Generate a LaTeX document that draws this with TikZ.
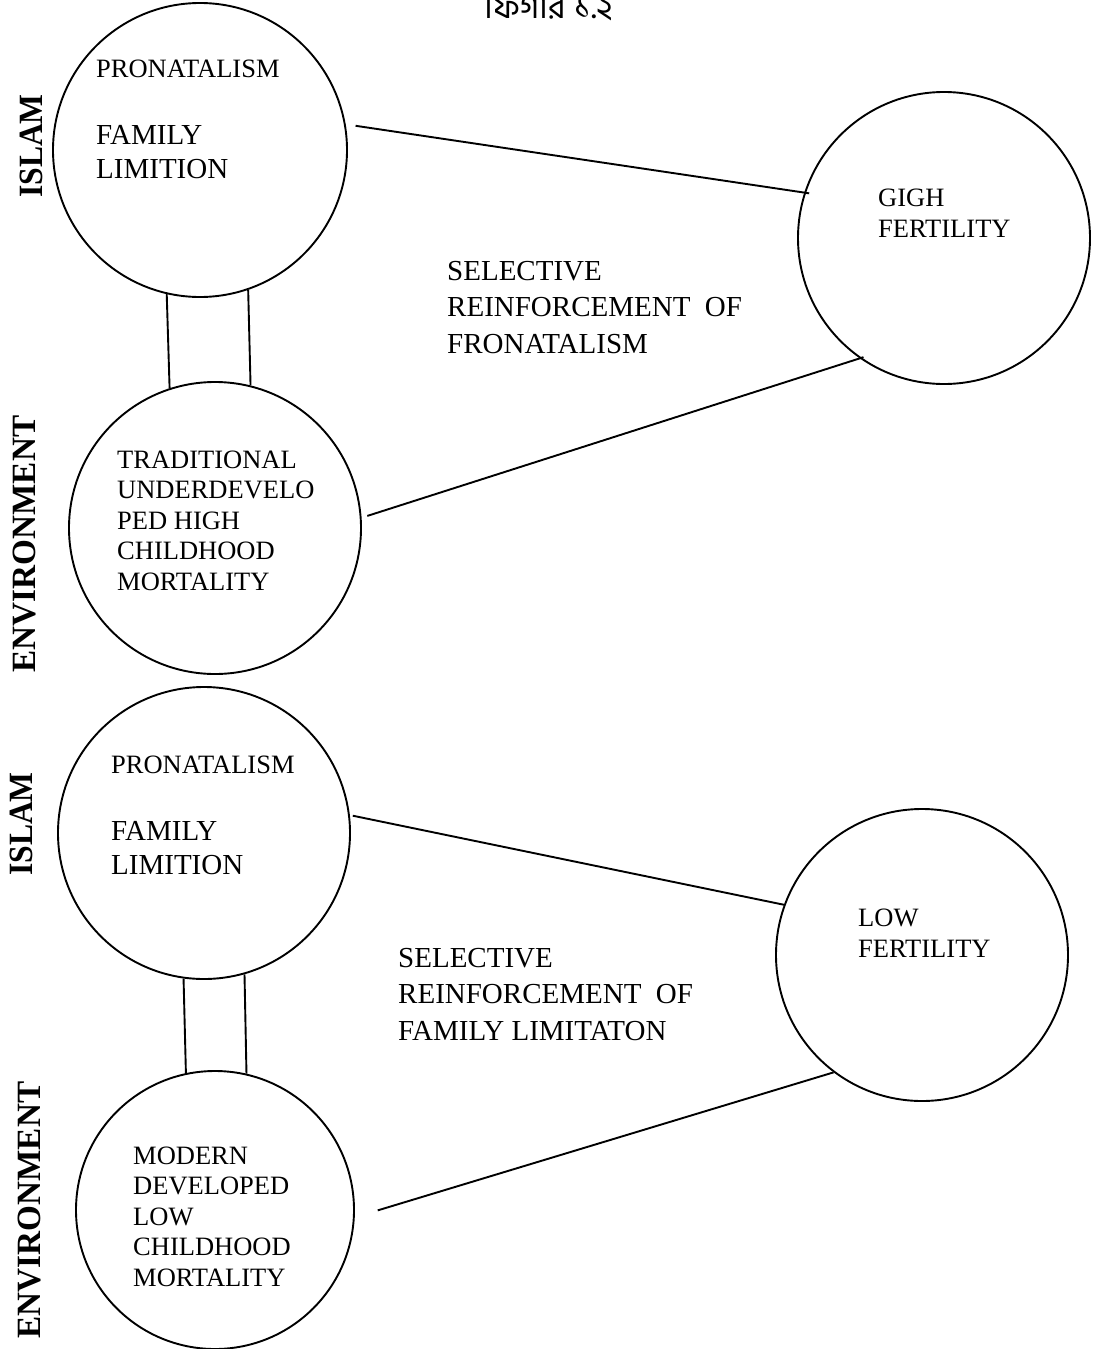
\documentclass[tikz,border=0pt]{standalone}
\usepackage{fontspec}
\setmainfont{Liberation Serif}
\newfontfamily\bnfont[Script=Bengali]{Hind Siliguri}
\usetikzlibrary{positioning}
\tikzset{
  bubble/.style={
    circle, draw=black, line width=1.9pt,
    minimum size=#1, inner sep=0pt
  },
  intext/.style={
    anchor=base west, align=left, inner sep=0pt,
    font=\fontsize{26.5}{30.5}\selectfont
  },
  bigtext/.style={
    anchor=base west, align=left, inner sep=0pt,
    font=\fontsize{29}{34}\selectfont
  },
  sidelab/.style={
    inner sep=0pt, rotate=90, xscale=0.93,
    font=\fontsize{34}{34}\selectfont\bfseries
  },
  link/.style={line width=1.9pt, color=black},
}

\begin{document}
\begin{tikzpicture}[x=1pt, y=-1pt]
      \useasboundingbox (0,0) rectangle (1096,1349);
      % title
      \node[anchor=base, inner sep=0pt, font=\bnfont\fontsize{34}{34}\selectfont](title) at (549,18) {ফিগার ১.২};
      % upper diagram
      \node[bubble=294pt](isl1) at (200,150) {};
      \node[bubble=292pt](env1) at (215,528) {};
      \node[bubble=292pt](hf1)  at (944,238) {};
      \node[sidelab](islam1) at (31,146)  {ISLAM};
      \node[sidelab, xscale=1.05](envir1) at (25,544) {ENVIRONMENT};
      \node[intext](pro1) at (96,77)   {PRONATALISM};
      \node[bigtext](fam1) at (96,178) {FAMILY\\LIMITION};
      \node[intext](trad1) at (117,590) {TRADITIONAL\\UNDERDEVELO\\PED HIGH\\CHILDHOOD\\MORTALITY};
      \node[intext](gigh1) at (878,237) {GIGH\\FERTILITY};
      \node[bigtext, font=\fontsize{29}{36.5}\selectfont](sel1) at (447,353) {SELECTIVE\\REINFORCEMENT~ OF\\FRONATALISM};
      \draw[link](isl1.257.4)--(env1.108.8);
      \draw[link](isl1.289.5)--(env1.76.5);
      \draw[link, shorten <=10pt, shorten >=-5pt](isl1.10)--(hf1.162);
      \draw[link, shorten <=6pt, shorten >=-4pt](env1.4.5)--(hf1.235.6);
      % lower diagram
      \node[bubble=292pt](isl2) at (204,833) {};
      \node[bubble=278pt](env2) at (215,1210) {};
      \node[bubble=292pt](lf2)  at (922,955) {};
      \node[sidelab](islam2) at (21,824)  {ISLAM};
      \node[sidelab, xscale=1.05](envir2) at (30,1210) {ENVIRONMENT};
      \node[intext](pro2) at (111,773)  {PRONATALISM};
      \node[bigtext](fam2) at (111,874) {FAMILY\\LIMITION};
      \node[intext](mod2) at (133,1286) {MODERN\\DEVELOPED\\LOW\\CHILDHOOD\\MORTALITY};
      \node[intext](low2) at (858,957)  {LOW\\FERTILITY};
      \node[bigtext, font=\fontsize{29}{36.5}\selectfont](sel2) at (398,1040) {SELECTIVE\\REINFORCEMENT~ OF\\FAMILY LIMITATON};
      \draw[link](isl2.262.5)--(env2.102.5);
      \draw[link](isl2.286.7)--(env2.77.1);
      \draw[link, shorten <=3pt](isl2.7.7)--(lf2.160.3);
      \draw[link, shorten <=24pt](env2.357.5)--(lf2.233);
    \end{tikzpicture}
\end{document}
